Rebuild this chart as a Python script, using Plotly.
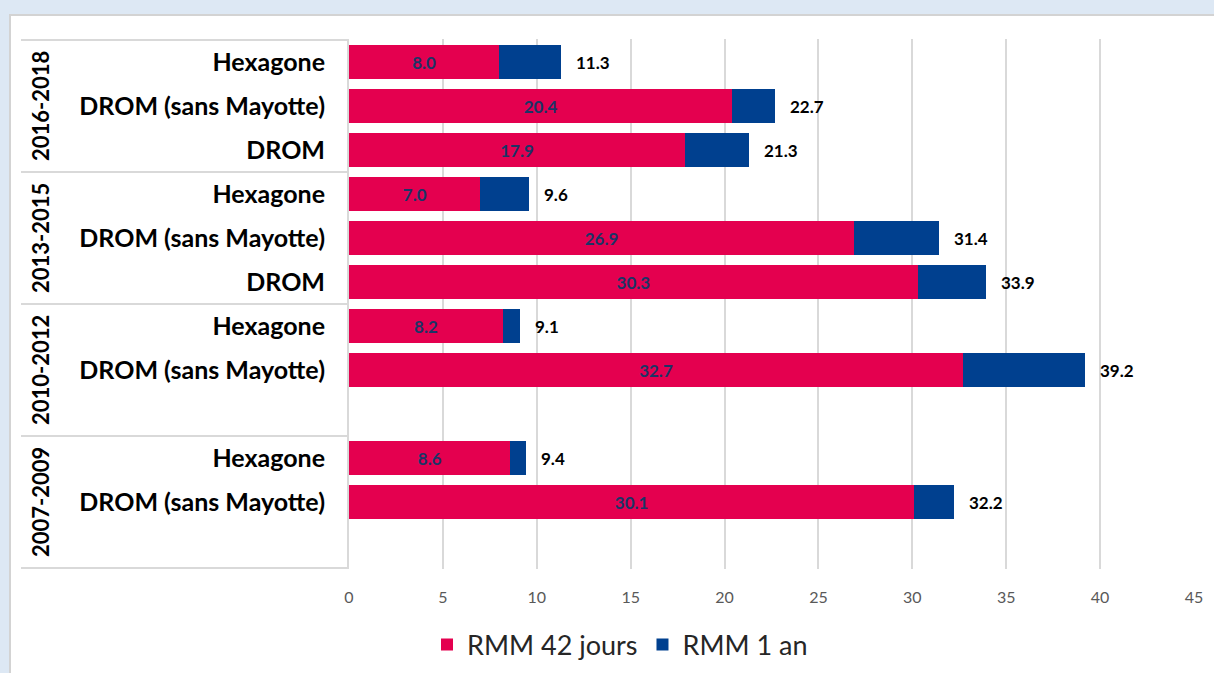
import plotly.graph_objects as go

# ---- data ----
periods = ["2016-2018", "2013-2015", "2010-2012", "2007-2009"]
slot_period = ["2016-2018", "2016-2018", "2016-2018",
               "2013-2015", "2013-2015", "2013-2015",
               "2010-2012", "2010-2012", "2010-2012",
               "2007-2009", "2007-2009", "2007-2009"]
slot_labels = ["Hexagone", "DROM (sans Mayotte)", "DROM",
               "Hexagone", "DROM (sans Mayotte)", "DROM",
               "Hexagone", "DROM (sans Mayotte)", "",
               "Hexagone", "DROM (sans Mayotte)", ""]
rmm_42j = [8.0, 20.4, 17.9, 7.0, 26.9, 30.3, 8.2, 32.7, None, 8.6, 30.1, None]
rmm_1an = [11.3, 22.7, 21.3, 9.6, 31.4, 33.9, 9.1, 39.2, None, 9.4, 32.2, None]
x_ticks = [0, 5, 10, 15, 20, 25, 30, 35, 40, 45]

PINK = "#E4004F"
BLUE = "#00408F"
BG = "#DDE8F4"
FONT = "Lato"

ids = [f"{p}|{l}|{i}" for i, (p, l) in enumerate(zip(slot_period, slot_labels))]
extra = [(b - a) if (a is not None and b is not None) else None for a, b in zip(rmm_42j, rmm_1an)]
inner_text = [f"<b>{v:.1f}</b>" if v is not None else "" for v in rmm_42j]

fig = go.Figure()
fig.add_trace(go.Bar(
    name="RMM 42 jours", y=ids, x=rmm_42j, orientation="h",
    marker=dict(color=PINK, line=dict(width=0)),
    text=inner_text, textposition="inside", insidetextanchor="middle",
    textfont=dict(family=FONT, size=17, color="#1B3466", weight="bold"),
    constraintext="none",
))
fig.add_trace(go.Bar(
    name="RMM 1 an", y=ids, x=extra, orientation="h",
    marker=dict(color=BLUE, line=dict(width=0)),
    textposition="none",
))

W, H = 1214, 673
ml, mr, mt, mb = 349, 20, 39, 104
pw, ph = W - ml - mr, H - mt - mb


def px_x(px):
    return (px - ml) / pw


def px_y(py):
    return (H - mb - py) / ph


shapes = [
    # white panel
    dict(type="rect", xref="paper", yref="paper",
         x0=px_x(10), x1=px_x(1230), y0=px_y(690), y1=px_y(15),
         fillcolor="white", line=dict(color="#D3D3D3", width=2), layer="below"),
]
for b in [-0.5, 2.5, 5.5, 8.5, 11.5]:
    shapes.append(dict(type="line", xref="paper", yref="y",
                       x0=px_x(21), x1=0, y0=b, y1=b,
                       line=dict(color="#D9D9D9", width=2)))

annotations = []
for i, tot in enumerate(rmm_1an):
    if tot is None:
        continue
    annotations.append(dict(x=tot, y=ids[i], xref="x", yref="y",
                            text=f"<b>{tot:.1f}</b>", showarrow=False,
                            xanchor="left", xshift=13,
                            font=dict(family=FONT, size=17, color="#000000")))
for gi, p in enumerate(periods):
    mid = ids[gi * 3 + 1]
    annotations.append(dict(x=px_x(40), y=mid, xref="paper", yref="y",
                            xanchor="center", yanchor="middle",
                            text=f"<b>{p}</b>", showarrow=False, textangle=-90,
                            font=dict(family=FONT, size=22, color="#000000")))

fig.update_layout(
    width=W, height=H,
    margin=dict(l=ml, r=mr, t=mt, b=mb, autoexpand=False),
    paper_bgcolor=BG, plot_bgcolor="white",
    barmode="stack", bargap=0.22,
    shapes=shapes, annotations=annotations,
    legend=dict(orientation="h", x=px_x(620), xanchor="center",
                y=px_y(645), yanchor="middle",
                font=dict(family=FONT, size=27, color="#262626"),
                bgcolor="rgba(0,0,0,0)", traceorder="normal"),
    xaxis=dict(range=[0, 45], tickvals=x_ticks, showgrid=True, automargin=False,
               gridcolor="#D9D9D9", gridwidth=2, zeroline=False, showline=False,
               tickfont=dict(family=FONT, size=16, color="#595959"),
               ticklabelstandoff=17, fixedrange=True),
    yaxis=dict(categoryorder="array", categoryarray=ids, autorange="reversed",
               tickvals=ids, ticktext=[f"<b>{l}</b>" for l in slot_labels],
               tickfont=dict(family=FONT, size=25, color="#000000"),
               showline=True, linecolor="#D9D9D9", linewidth=2, automargin=False,
               showgrid=False, ticklabelstandoff=17, fixedrange=True),
    showlegend=True,
)

fig.write_html(
    "out.html",
    config={"displayModeBar": False},
    post_script=f"document.body.style.margin='0px';document.body.style.background='{BG}';",
)
